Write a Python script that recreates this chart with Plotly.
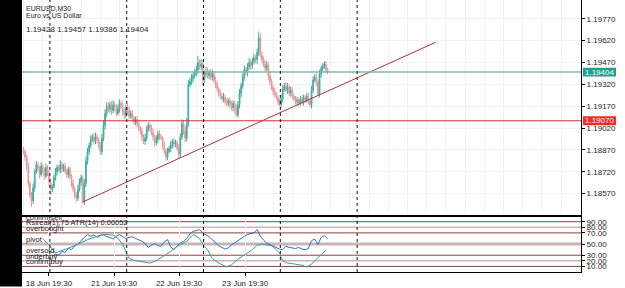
import plotly.graph_objects as go

# ---------------- data (prices in points above 1.18000) ----------------
close_pts = [
    860, 820, 760, 640, 560, 520, 610, 720, 770, 740,
    700, 760, 730, 690, 750, 710, 650, 600, 620, 680,
    720, 750, 730, 770, 740, 760, 720, 700, 740, 690,
    640, 600, 560, 540, 600, 650, 680, 520, 640, 790,
    860, 900, 940, 960, 930, 960, 940, 900, 860, 950,
    1040, 1120, 1170, 1150, 1180, 1140, 1180, 1160, 1120, 1150,
    1190, 1170, 1130, 1110, 1160, 1140, 1100, 1120, 1090, 1060,
    1080, 1050, 1020, 1000, 960, 930, 950, 1010, 1040, 1020,
    990, 960, 920, 940, 980, 960, 950, 900, 860, 820,
    860, 880, 900, 930, 910, 920, 880, 840, 960, 1050,
    1000, 950, 1050, 1320, 1340, 1360, 1380, 1400, 1420, 1470,
    1440, 1460, 1350, 1390, 1410, 1380, 1400, 1370, 1390, 1350,
    1320, 1290, 1260, 1240, 1220, 1230, 1200, 1190, 1210, 1180,
    1160, 1190, 1150, 1110, 1180, 1260, 1310, 1370, 1420, 1400,
    1440, 1470, 1450, 1480, 1500, 1490, 1540, 1640, 1520, 1490,
    1460, 1430, 1450, 1380, 1340, 1300, 1270, 1250, 1230, 1200,
    1180, 1220, 1290, 1310, 1280, 1300, 1260, 1280, 1240, 1220,
    1200, 1210, 1190, 1220, 1200, 1230, 1210, 1240, 1200, 1180,
    1280, 1350, 1370, 1330, 1250, 1390, 1430, 1440, 1460, 1420,
    1404,
]
first_open_pt = 870
up_wick = [
    20, 15, 20, 25, 15, 20, 30, 20, 25, 15,
    20, 25, 15, 20, 25, 15, 20, 25, 15, 20,
    25, 20, 15, 30, 20, 15, 25, 20, 15, 20,
    15, 25, 20, 20, 30, 25, 20, 15, 30, 35,
    25, 20, 30, 20, 25, 30, 20, 15, 25, 30,
    35, 30, 25, 30, 20, 25, 30, 20, 25, 30,
    25, 20, 30, 25, 20, 25, 30, 20, 25, 15,
    20, 25, 20, 15, 25, 20, 30, 25, 20, 15,
    20, 25, 15, 30, 20, 25, 20, 15, 25, 20,
    25, 20, 30, 15, 25, 20, 15, 30, 25, 30,
    25, 35, 40, 30, 25, 30, 20, 25, 30, 43,
    20, 30, 25, 20, 30, 25, 20, 25, 30, 20,
    25, 20, 15, 25, 20, 30, 20, 25, 15, 20,
    25, 20, 15, 30, 25, 30, 20, 25, 30, 20,
    25, 30, 20, 25, 30, 20, 25, 42, 30, 25,
    20, 25, 30, 20, 25, 20, 15, 25, 20, 15,
    20, 30, 25, 20, 25, 30, 20, 25, 20, 15,
    20, 25, 15, 20, 25, 20, 15, 20, 25, 15,
    30, 25, 20, 30, 25, 30, 20, 25, 19, 20,
    15,
]
low_wick = [
    20, 25, 30, 25, 20, 40, 20, 25, 15, 20,
    25, 15, 20, 25, 15, 20, 25, 40, 20, 15,
    20, 25, 15, 20, 25, 20, 15, 20, 25, 20,
    25, 20, 25, 30, 20, 15, 25, 20, 30, 25,
    20, 25, 20, 15, 25, 20, 25, 20, 23, 25,
    20, 30, 25, 20, 25, 30, 20, 25, 20, 15,
    25, 20, 25, 30, 20, 25, 20, 15, 25, 20,
    20, 25, 20, 25, 30, 20, 25, 20, 15, 25,
    20, 25, 30, 20, 25, 20, 15, 25, 20, 25,
    20, 15, 25, 20, 25, 20, 15, 30, 25, 20,
    25, 30, 20, 25, 20, 25, 30, 20, 25, 30,
    20, 25, 40, 20, 25, 20, 25, 20, 25, 20,
    25, 20, 25, 20, 15, 25, 20, 25, 20, 25,
    20, 25, 30, 10, 20, 25, 30, 20, 25, 20,
    25, 20, 30, 25, 20, 25, 30, 25, 20, 25,
    20, 25, 20, 30, 25, 20, 25, 20, 15, 25,
    10, 20, 25, 20, 15, 25, 20, 25, 20, 15,
    20, 25, 20, 15, 20, 25, 20, 15, 20, 15,
    25, 20, 15, 25, 10, 20, 25, 20, 15, 25,
    15,
]

price_ticks = [1.19770, 1.19620, 1.19470, 1.19320, 1.19170,
               1.19020, 1.18870, 1.18720, 1.18570]
bid_price = 1.19404
level_price = 1.19070
trend_bar = [37, 257.5]
trend_pt = [513, 1608]
day_separators = [16.5, 64.5, 112.5, 160.5, 208.5]
date_tick_bars = [15.9, 56.6, 97.2, 138.5]
date_tick_text = ["18 Jun 19:30", "21 Jun 19:30", "22 Jun 19:30", "23 Jun 19:30"]

blue_bar = list(range(18, 191, 2))
blue_val = [
    28, 32, 30, 37, 35, 42, 40, 47, 50, 57,
    62, 67, 64, 66, 62, 65, 67, 63, 62, 59,
    64, 67, 63, 60, 62, 63, 60, 58, 55, 51,
    44, 48, 51, 47, 46, 54, 58, 45, 40, 47,
    52, 55, 60, 68, 73, 74, 76, 70, 67, 63,
    58, 52, 47, 44, 41, 43, 49, 52, 56, 61,
    64, 67, 68, 70, 76, 64, 57, 52, 49, 46,
    43, 41, 40, 46, 44, 43, 42, 44, 41, 40,
    42, 56, 59, 49, 62, 65, 60,
]
teal_bar = [12, 15, 17, 20, 23, 27, 31, 35, 40, 44,
            48, 52, 56, 59, 62, 64, 66, 69, 73, 76,
            79, 82, 86, 89, 92, 95, 98, 102, 106, 110,
            112, 115, 118, 122, 127, 130, 134, 137, 140, 143,
            146, 149, 152, 155, 158, 160, 162, 165, 168, 171,
            174, 177, 180, 183, 186, 189]
teal_val = [60, 52, 45, 34, 37, 41, 46, 51, 58, 62,
            66, 67, 66, 60, 50, 36, 24, 21, 19, 18,
            16, 19, 25, 31, 37, 44, 49, 55, 67, 60,
            50, 40, 24, 16, 9, 13, 23, 28, 34, 40,
            48, 50, 49, 47, 40, 34, 20, 16, 15, 14,
            12, 9, 14, 23, 31, 39]

ind_levels = [90, 80, 70, 50, 30, 20, 10]
ind_level_names = {90: "confirmsell", 70: "overbought", 50: "pivot",
                   30: "oversold", 20: "underbuy", 10: "confirmbuy"}
ind_title = "Rsireal(1),75 ATR(14) 0.00052"

# ---------------- derived ----------------
BASE = 1.18
def P(v):
    return BASE + v / 1e5

opens_pt = [first_open_pt] + close_pts[:-1]
bars = list(range(len(close_pts)))
o = [P(v) for v in opens_pt]
c = [P(v) for v in close_pts]
h = [P(max(a, b) + u) for a, b, u in zip(opens_pt, close_pts, up_wick)]
l = [P(min(a, b) - d) for a, b, d in zip(opens_pt, close_pts, low_wick)]

FONT = "Liberation Sans, Arial, sans-serif"
W, H = 625, 288
ML, MR, MT, MB = 22, 44, 0, 12
PW, PH = W - ML - MR, H - MT - MB

def py(px):  # pixel y -> paper y
    return 1 - (px - MT) / PH

def pxx(px):  # pixel x -> paper x
    return (px - ML) / PW

fig = go.Figure()

fig.add_trace(go.Candlestick(
    x=bars, open=o, high=h, low=l, close=c,
    increasing=dict(line=dict(color="#3fae9e", width=1), fillcolor="#3fae9e"),
    decreasing=dict(line=dict(color="#e69a9a", width=1), fillcolor="#e69a9a"),
    xaxis="x", yaxis="y", showlegend=False, hoverinfo="skip",
))

fig.add_trace(go.Scatter(
    x=trend_bar, y=[P(v) for v in trend_pt], mode="lines",
    line=dict(color="#b03434", width=1), xaxis="x", yaxis="y",
    showlegend=False, hoverinfo="skip"))

fig.add_trace(go.Scatter(
    x=blue_bar, y=blue_val, mode="lines",
    line=dict(color="#2f6fbf", width=1), xaxis="x2", yaxis="y2",
    showlegend=False, hoverinfo="skip"))
fig.add_trace(go.Scatter(
    x=teal_bar, y=teal_val, mode="lines",
    line=dict(color="#3a9e96", width=1), xaxis="x2", yaxis="y2",
    showlegend=False, hoverinfo="skip"))

shapes = []
# left black strip
shapes.append(dict(type="rect", xref="paper", yref="paper",
                   x0=-ML / PW - 0.01, x1=0, y0=-MB / PH - 0.01, y1=1.01,
                   fillcolor="black", line=dict(width=0), layer="above"))
# horizontal price lines
shapes.append(dict(type="line", xref="paper", yref="y", x0=0, x1=1,
                   y0=bid_price, y1=bid_price,
                   line=dict(color="#7db8b1", width=1.5)))
shapes.append(dict(type="line", xref="paper", yref="y", x0=0, x1=1,
                   y0=level_price, y1=level_price,
                   line=dict(color="#d03030", width=1)))
# label boxes on the price axis
half = 4.5 / 14800
shapes.append(dict(type="rect", xref="paper", yref="y",
                   x0=pxx(583), x1=pxx(616), y0=bid_price - half, y1=bid_price + half,
                   fillcolor="#22a08f", line=dict(width=0)))
shapes.append(dict(type="rect", xref="paper", yref="y",
                   x0=pxx(583), x1=pxx(616), y0=level_price - half, y1=level_price + half,
                   fillcolor="#ff2626", line=dict(width=0)))
# indicator levels
level_style = {90: ("#8b4242", 1), 80: ("#cbb4b4", 1.5), 70: ("#8b4242", 1),
               50: ("#c6b6b6", 3), 30: ("#8b4242", 1), 20: ("#cbb4b4", 1.5),
               10: ("#8b4242", 1)}
for lv in ind_levels:
    col, wd = level_style[lv]
    shapes.append(dict(type="line", xref="paper", yref="y2", x0=0, x1=1,
                       y0=lv, y1=lv, line=dict(color=col, width=wd), layer="below"))
# indicator top border (thick)
shapes.append(dict(type="line", xref="paper", yref="y2", x0=0, x1=1,
                   y0=100, y1=100, line=dict(color="black", width=2)))
# day separators
for b in day_separators:
    shapes.append(dict(type="line", xref="x", yref="paper", x0=b, x1=b,
                       y0=0, y1=1, line=dict(color="#111111", width=1, dash="3px,3px")))

annotations = []
annotations.append(dict(text="EURUSD,M30", xref="paper", yref="paper",
                        x=pxx(24), y=py(9), xanchor="left", yanchor="middle",
                        showarrow=False, font=dict(family=FONT, size=7, color="#222")))
annotations.append(dict(text="Euro vs US Dollar", xref="paper", yref="paper",
                        x=pxx(24), y=py(16), xanchor="left", yanchor="middle",
                        showarrow=False, font=dict(family=FONT, size=7, color="#222")))
annotations.append(dict(text="1.19428 1.19457 1.19386 1.19404", xref="paper", yref="paper",
                        x=pxx(24), y=py(30), xanchor="left", yanchor="middle",
                        showarrow=False, font=dict(family=FONT, size=8, color="#222")))
annotations.append(dict(text=f"{bid_price:.5f}", xref="paper", yref="y",
                        x=pxx(599.5), y=bid_price, xanchor="center", yanchor="middle",
                        showarrow=False, font=dict(family=FONT, size=8, color="white")))
annotations.append(dict(text=f"{level_price:.5f}", xref="paper", yref="y",
                        x=pxx(599.5), y=level_price, xanchor="center", yanchor="middle",
                        showarrow=False, font=dict(family=FONT, size=8, color="white")))
for lv, name in ind_level_names.items():
    annotations.append(dict(text=name, xref="paper", yref="y2", x=pxx(24), y=lv,
                            yshift=4.5, xanchor="left", yanchor="middle",
                            showarrow=False, font=dict(family=FONT, size=7.5, color="#222")))
annotations.append(dict(text=ind_title, xref="paper", yref="y2", x=pxx(24), y=80,
                        yshift=4.5, xanchor="left", yanchor="middle",
                        showarrow=False, font=dict(family=FONT, size=7.5, color="#222")))

x_range = [-0.94, 348.4]
main_bottom = 1 - (218 - MT) / PH
ind_top = 1 - (219.3 - MT) / PH

fig.update_layout(
    width=W, height=H, autosize=False,
    margin=dict(l=ML, r=MR, t=MT, b=MB, pad=0),
    paper_bgcolor="white", plot_bgcolor="white",
    showlegend=False,
    shapes=shapes, annotations=annotations,
    xaxis=dict(domain=[0, 1], anchor="y", range=x_range, showticklabels=False,
               showgrid=True, gridcolor="#f1f1f1", dtick=12, tick0=0,
               showline=True, linecolor="black", linewidth=1,
               rangeslider=dict(visible=False), zeroline=False, ticks=""),
    yaxis=dict(domain=[main_bottom, 1], anchor="x", side="right",
               range=[P(1898.4 - 6.76 * 218), P(1898.4)],
               tickvals=price_ticks, ticktext=[f"{t:.5f}" for t in price_ticks],
               ticks="outside", ticklen=3, tickcolor="black",
               tickfont=dict(family=FONT, size=8, color="#222"),
               showgrid=True, gridcolor="#f1f1f1", zeroline=False,
               showline=True, linecolor="black", linewidth=1),
    xaxis2=dict(domain=[0, 1], anchor="y2", range=x_range, matches="x",
                tickvals=date_tick_bars, ticktext=date_tick_text,
                ticks="outside", ticklen=3, tickcolor="black",
                tickfont=dict(family=FONT, size=8, color="#222"),
                showgrid=True, gridcolor="#f1f1f1",
                showline=True, linecolor="black", linewidth=1, zeroline=False),
    yaxis2=dict(domain=[0, ind_top], anchor="x2", side="right", range=[0, 100],
                tickvals=ind_levels, ticktext=[f"{v:.2f}" for v in ind_levels],
                ticks="outside", ticklen=3, tickcolor="black",
                tickfont=dict(family=FONT, size=8, color="#222"),
                showgrid=False, zeroline=False,
                showline=True, linecolor="black", linewidth=1),
)

fig.write_html("out.html")
